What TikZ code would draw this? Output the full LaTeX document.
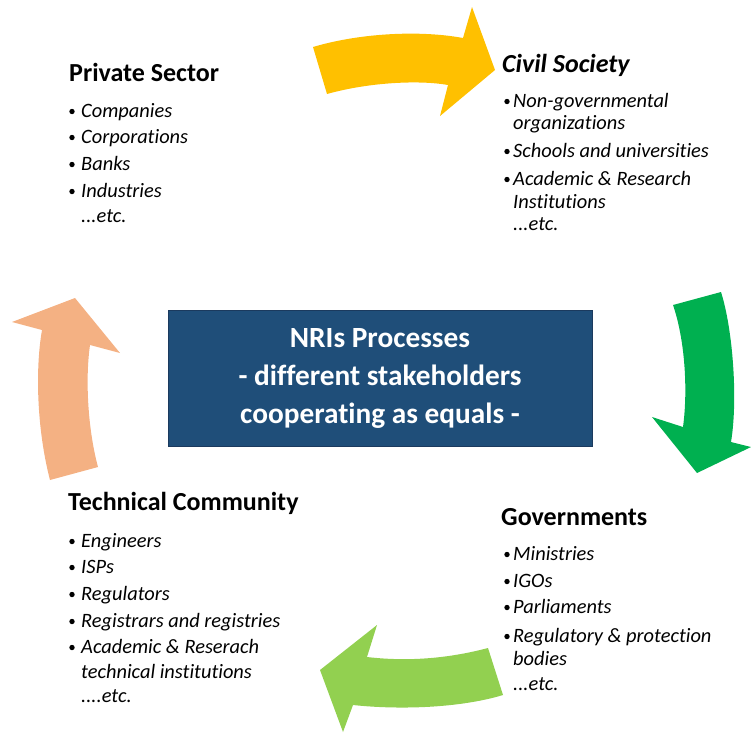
\documentclass[tikz,border=0pt]{standalone}
\usepackage{fontspec}
\setmainfont{Carlito}[Ligatures=NoCommon]
\definecolor{arrYellow}{HTML}{FFC000}
\definecolor{arrGreen}{HTML}{00B050}
\definecolor{arrLight}{HTML}{92D050}
\definecolor{arrOrange}{HTML}{F4B183}
\definecolor{boxFill}{HTML}{1F4E79}
\definecolor{boxLine}{HTML}{1B3A5E}
\tikzset{
  head/.style={anchor=base west, inner sep=0pt, font=\fontsize{26}{30}\selectfont\bfseries},
  item/.style={anchor=base west, inner sep=0pt, font=\fontsize{20.4}{24}\selectfont\itshape},
  bul/.style={circle, fill=black, inner sep=0pt, minimum size=5.4pt, yshift=5.5pt},
  centre/.style={anchor=base, inner sep=0pt, text=white, font=\fontsize{29.3}{35}\selectfont\bfseries},
}
\begin{document}
\begin{tikzpicture}[x=1pt,y=-1pt]
\useasboundingbox (0,0) rectangle (751,732);
% arrows
\fill[arrYellow] (313,47) .. controls (360,33) and (420,30) .. (463,38)
  -- (472,7) -- (495,70) -- (440,116) -- (448,85)
  .. controls (420,80) and (370,82) .. (327,94) -- cycle;
\fill[arrGreen] (673,305) -- (721,292) .. controls (733,330) and (738,400) .. (731,442)
  -- (751,447) -- (697,473) -- (652,417) -- (683,427)
  .. controls (688,390) and (685,340) .. (673,305) -- cycle;
\fill[arrLight] (488,648) -- (503,695) .. controls (460,708) and (400,710) .. (353,705)
  -- (343,732) -- (320,670) -- (377,625) -- (367,657)
  .. controls (410,662) and (450,658) .. (488,648) -- cycle;
\fill[arrOrange] (50,480) -- (98,467) .. controls (88,430) and (85,380) .. (90,345)
  -- (120,353) -- (75,298) -- (12,322) -- (42,330)
  .. controls (35,370) and (37,430) .. (50,480) -- cycle;
% centre box
\node[draw=boxLine, line width=1pt, fill=boxFill, minimum width=424pt, minimum height=136pt, inner sep=0pt] (box) at (380,378) {};
\node[centre] (c1) at (380,347) {NRIs Processes};
\node[centre] (c2) at (380,385) {- different stakeholders};
\node[centre] (c3) at (380,423) {cooperating as equals -};
% Private sector
\node[head] (ps) at (69,81) {Private Sector};
\node[bul] (psb1) at (72,117) {}; \node[item] (ps1) at (81,117) {Companies};
\node[bul] (psb2) at (72,143) {}; \node[item] (ps2) at (81,143) {Corporations};
\node[bul] (psb3) at (72,170) {}; \node[item] (ps3) at (81,170) {Banks};
\node[bul] (psb4) at (72,197) {}; \node[item] (ps4) at (81,197) {Industries};
\node[item] (ps5) at (81,222) {...etc.};
% Civil society
\node[head, font=\fontsize{26}{30}\selectfont\bfseries\itshape] (cs) at (502,72) {Civil Society};
\node[bul] (csb1) at (507,107) {}; \node[item] (cs1) at (513,107) {Non-governmental};
\node[item] (cs1b) at (513,129) {organizations};
\node[bul] (csb2) at (507,157) {}; \node[item] (cs2) at (513,157) {Schools and universities};
\node[bul] (csb3) at (507,185) {}; \node[item] (cs3) at (513,185) {Academic \& Research};
\node[item] (cs3b) at (513,208) {Institutions};
\node[item] (cs4) at (513,230) {...etc.};
% Governments
\node[head] (gv) at (501,525) {Governments};
\node[bul] (gvb1) at (507,560) {}; \node[item] (gv1) at (513,560) {Ministries};
\node[bul] (gvb2) at (507,587) {}; \node[item] (gv2) at (513,587) {IGOs};
\node[bul] (gvb3) at (507,613) {}; \node[item] (gv3) at (513,613) {Parliaments};
\node[bul] (gvb4) at (507,642) {}; \node[item] (gv4) at (513,642) {Regulatory \& protection};
\node[item] (gv4b) at (513,665) {bodies};
\node[item] (gv5) at (513,690) {...etc.};
% Technical community
\node[head] (tc) at (68,510) {Technical Community};
\node[bul] (tcb1) at (72,547) {}; \node[item] (tc1) at (81,547) {Engineers};
\node[bul] (tcb2) at (72,573) {}; \node[item] (tc2) at (81,573) {ISPs};
\node[bul] (tcb3) at (72,600) {}; \node[item] (tc3) at (81,600) {Regulators};
\node[bul] (tcb4) at (72,627) {}; \node[item] (tc4) at (81,627) {Registrars and registries};
\node[bul] (tcb5) at (72,653) {}; \node[item] (tc5) at (81,653) {Academic \& Reserach};
\node[item] (tc5b) at (81,678) {technical institutions};
\node[item] (tc6) at (81,702) {....etc.};
\end{tikzpicture}
\end{document}
